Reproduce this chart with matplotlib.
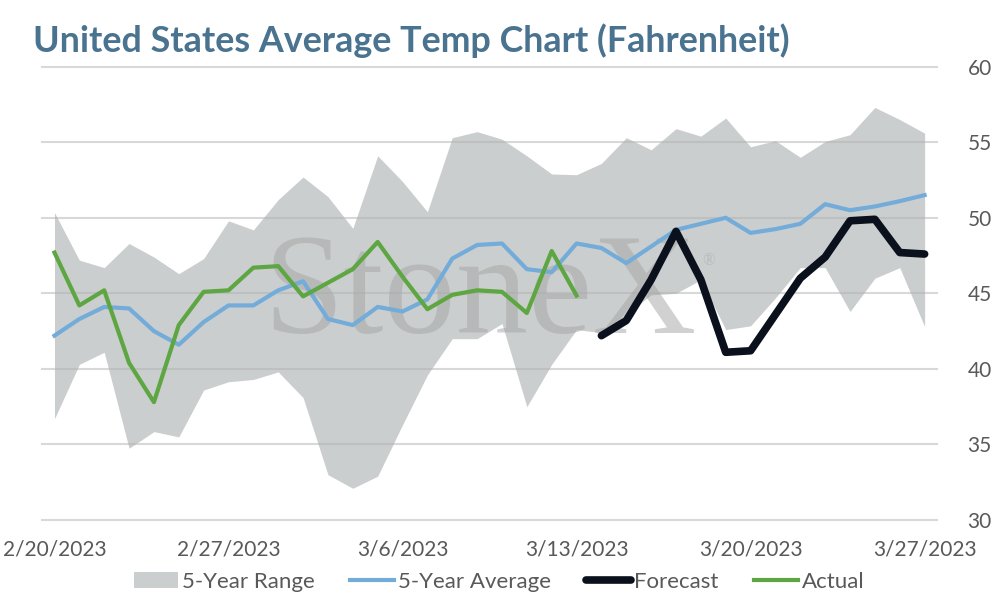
import numpy as np
import pandas as pd
import matplotlib
matplotlib.use("Agg")
import matplotlib.pyplot as plt
import matplotlib.dates as mdates
from matplotlib.patches import Patch
from matplotlib.lines import Line2D

nan = np.nan

dates = pd.date_range("2023-02-20", "2023-03-27", freq="D")

range_high = [50.35, 47.2, 46.7, 48.3, 47.4, 46.3, 47.3, 49.8, 49.2, 51.2, 52.7, 51.4,
              49.3, 54.1, 52.4, 50.4, 55.3, 55.7, 55.2, 54.1, 52.9, 52.85, 53.6, 55.3,
              54.5, 55.9, 55.4, 56.6, 54.7, 55.1, 54.0, 55.05, 55.5, 57.3, 56.5, 55.6]
range_low = [36.7, 40.3, 41.1, 34.75, 35.85, 35.5, 38.6, 39.15, 39.3, 39.8, 38.1, 33.0,
             32.1, 32.9, 36.3, 39.6, 42.0, 42.0, 43.0, 37.5, 40.3, 42.6, 42.4, 43.6,
             44.9, 45.0, 45.9, 42.6, 42.85, 44.7, 46.7, 46.7, 43.8, 46.0, 46.7, 42.8]
avg_5yr = [42.2, 43.3, 44.1, 44.0, 42.5, 41.6, 43.1, 44.2, 44.2, 45.2, 45.8, 43.3,
           42.9, 44.1, 43.8, 44.6, 47.3, 48.2, 48.3, 46.6, 46.4, 48.3, 48.0, 47.0,
           48.1, 49.2, 49.6, 50.0, 49.0, 49.25, 49.6, 50.9, 50.5, 50.75, 51.1, 51.5]
forecast = [nan] * 22 + [42.2, 43.2, 45.9, 49.1, 45.9, 41.1, 41.2, 43.6, 46.0, 47.4,
                         49.8, 49.9, 47.7, 47.6]
actual = [47.7, 44.2, 45.2, 40.4, 37.8, 42.9, 45.1, 45.2, 46.7, 46.8, 44.8, 45.7,
          46.6, 48.4, 46.1, 43.95, 44.9, 45.2, 45.1, 43.7, 47.8, 44.85] + [nan] * 14

y_ticks = [30, 35, 40, 45, 50, 55, 60]

c_range = "#cbcecf"
c_avg = "#74acd9"
c_fc = "#0b111c"
c_act = "#5da641"
c_text = "#595959"

fig = plt.figure(figsize=(9.94, 6), dpi=100)
ax = fig.add_axes([0.0423, 0.1333, 0.9004, 0.7556])

ax.fill_between(dates, range_low, range_high, color=c_range, lw=0, zorder=1)
for t in y_ticks:
    ax.axhline(t, color="#b3b3b3", alpha=0.5, lw=1.5, zorder=1.5, clip_on=False)

# watermark
ax.text(0.49, 0.4125, "StoneX", transform=ax.transAxes, family="Liberation Serif",
        fontsize=104, color="#a5a5a5", alpha=0.5, ha="center", va="baseline", zorder=2)
ax.text(0.745, 0.57, "\u00ae", transform=ax.transAxes, family="Liberation Serif",
        fontsize=12, color="#a5a5a5", alpha=0.5, ha="center", va="center", zorder=2)

ax.plot(dates, avg_5yr, color=c_avg, lw=3, zorder=3)
ax.plot(dates, actual, color=c_act, lw=3, zorder=4)
ax.plot(dates, forecast, color=c_fc, lw=5.5, zorder=5,
        solid_capstyle="round", solid_joinstyle="round")

ax.set_ylim(30, 60)
ax.set_xlim(dates[0] - pd.Timedelta(hours=12), dates[-1] + pd.Timedelta(hours=12))
ax.set_yticks(y_ticks)
ax.yaxis.tick_right()
ax.set_xticks(dates[::7])
ax.xaxis.set_major_formatter(mdates.DateFormatter("%-m/%-d/%Y"))
ax.tick_params(length=0, labelsize=15, labelcolor=c_text, labelfontfamily="Lato")
ax.tick_params(axis="x", pad=14)
ax.tick_params(axis="y", pad=22)
for s in ax.spines.values():
    s.set_visible(False)

fig.text(0.033, 0.933, "United States Average Temp Chart (Fahrenheit)",
         family="Lato", fontweight="bold", fontsize=25.8, color="#4a7390",
         ha="left", va="center")

handles = [
    Patch(facecolor=c_range, edgecolor="none"),
    Line2D([], [], color=c_avg, lw=3),
    Line2D([], [], color=c_fc, lw=5.5, solid_capstyle="round"),
    Line2D([], [], color=c_act, lw=3),
]
labels = ["5-Year Range", "5-Year Average", "Forecast", "Actual"]
leg = fig.legend(handles, labels, loc="center", bbox_to_anchor=(0.502, 0.03),
                 ncol=4, frameon=False, handlelength=2.0, handletextpad=0.15,
                 columnspacing=1.6, prop={"family": "Lato", "size": 16})
for t in leg.get_texts():
    t.set_color(c_text)

fig.savefig("out.png", dpi=100)
